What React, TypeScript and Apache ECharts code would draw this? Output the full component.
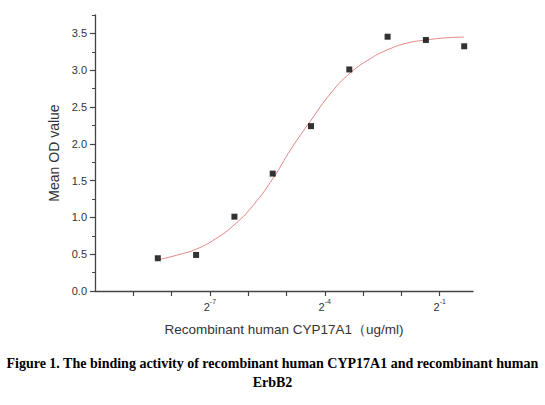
import React, { useEffect, useRef } from 'react';
import * as echarts from 'echarts';

// concentration as log2(ug/ml)
const doseLog2 = [-8.36, -7.36, -6.36, -5.36, -4.36, -3.36, -2.36, -1.36, -0.36];
const meanOD = [0.445, 0.49, 1.01, 1.595, 2.24, 3.01, 3.455, 3.41, 3.325];

// fitted curve
const fitX = [-8.3, -7.84, -7.35, -6.85, -6.34, -5.86, -5.34, -4.88, -4.36, -3.84, -3.34, -2.8, -2.35, -1.84, -1.36, -0.84, -0.37];
const fitY = [0.43, 0.49, 0.57, 0.71, 0.91, 1.17, 1.54, 1.93, 2.32, 2.69, 2.96, 3.16, 3.28, 3.37, 3.41, 3.44, 3.45];

const yMajor = [0, 0.5, 1, 1.5, 2, 2.5, 3, 3.5];
const xTicks = [-9, -8, -7, -6, -5, -4, -3, -2, -1];
const xLabels = [-7, -4, -1];

const captionLines = [
  'Figure 1. The binding activity of recombinant human CYP17A1 and recombinant human',
  'ErbB2',
];

const AXIS = '#444';
const FONT = 'Liberation Sans, Arial, sans-serif';

export default function App() {
  const chartRef = useRef<HTMLDivElement>(null);

  useEffect(() => {
    if (!chartRef.current) return;
    const chart = echarts.init(chartRef.current, undefined, { renderer: 'svg' });

    const option = {
      animation: false,
      backgroundColor: '#fff',
      grid: { left: 95, right: 72, top: 15, bottom: 114 },
      xAxis: {
        type: 'value',
        min: -10,
        max: -0.13,
        interval: 1,
        name: 'Recombinant human CYP17A1（ug/ml)',
        nameLocation: 'middle',
        nameGap: 31,
        nameTextStyle: { fontFamily: FONT, fontSize: 13.5, color: '#333' },
        axisLine: { lineStyle: { color: AXIS, width: 1.3 } },
        axisTick: { customValues: xTicks, length: 5, lineStyle: { color: AXIS, width: 1.2 } },
        axisLabel: {
          customValues: xLabels,
          margin: 7,
          formatter: (v: number) => `{b|2}{s|${v}}`,
          rich: {
            b: { fontFamily: FONT, fontSize: 11, color: '#333', verticalAlign: 'bottom', lineHeight: 14 },
            s: { fontFamily: FONT, fontSize: 7, color: '#333', verticalAlign: 'top', lineHeight: 14 },
          },
        },
        splitLine: { show: false },
      },
      yAxis: [
        {
          type: 'value',
          min: 0,
          max: 3.75,
          interval: 0.25,
          name: 'Mean OD value',
          nameLocation: 'middle',
          nameGap: 33,
          nameTextStyle: { fontFamily: FONT, fontSize: 14, color: '#333' },
          axisLine: { show: true, lineStyle: { color: AXIS, width: 1.3 } },
          axisTick: { length: 3, lineStyle: { color: AXIS, width: 1 } },
          axisLabel: {
            customValues: yMajor,
            margin: 8,
            fontFamily: FONT,
            fontSize: 11,
            color: '#333',
            formatter: (v: number) => v.toFixed(1),
          },
          splitLine: { show: false },
        },
        {
          type: 'value',
          position: 'left',
          min: 0,
          max: 3.75,
          interval: 0.5,
          axisLine: { show: false },
          axisTick: { customValues: yMajor, length: 5, lineStyle: { color: AXIS, width: 1.2 } },
          axisLabel: { show: false },
          splitLine: { show: false },
        },
      ],
      series: [
        {
          type: 'line',
          data: fitX.map((x, i) => [x, fitY[i]]),
          smooth: true,
          showSymbol: false,
          lineStyle: { color: '#e48484', width: 1 },
          z: 2,
        },
        {
          type: 'scatter',
          data: doseLog2.map((x, i) => [x, meanOD[i]]),
          symbol: 'rect',
          symbolSize: 6,
          itemStyle: { color: '#000' },
          z: 3,
        },
      ],
      graphic: captionLines.map((t, i) => ({
        type: 'text',
        left: 'center',
        top: 356 + i * 19,
        style: {
          text: t,
          fontFamily: 'Liberation Serif, Times New Roman, serif',
          fontWeight: 'bold',
          fontSize: 14,
          fill: '#000',
        },
      })),
    };

    chart.setOption(option);
    return () => chart.dispose();
  }, []);

  return (
    <div
      ref={chartRef}
      style={{ position: 'fixed', left: 0, top: 0, width: 545, height: 405 }}
    />
  );
}
